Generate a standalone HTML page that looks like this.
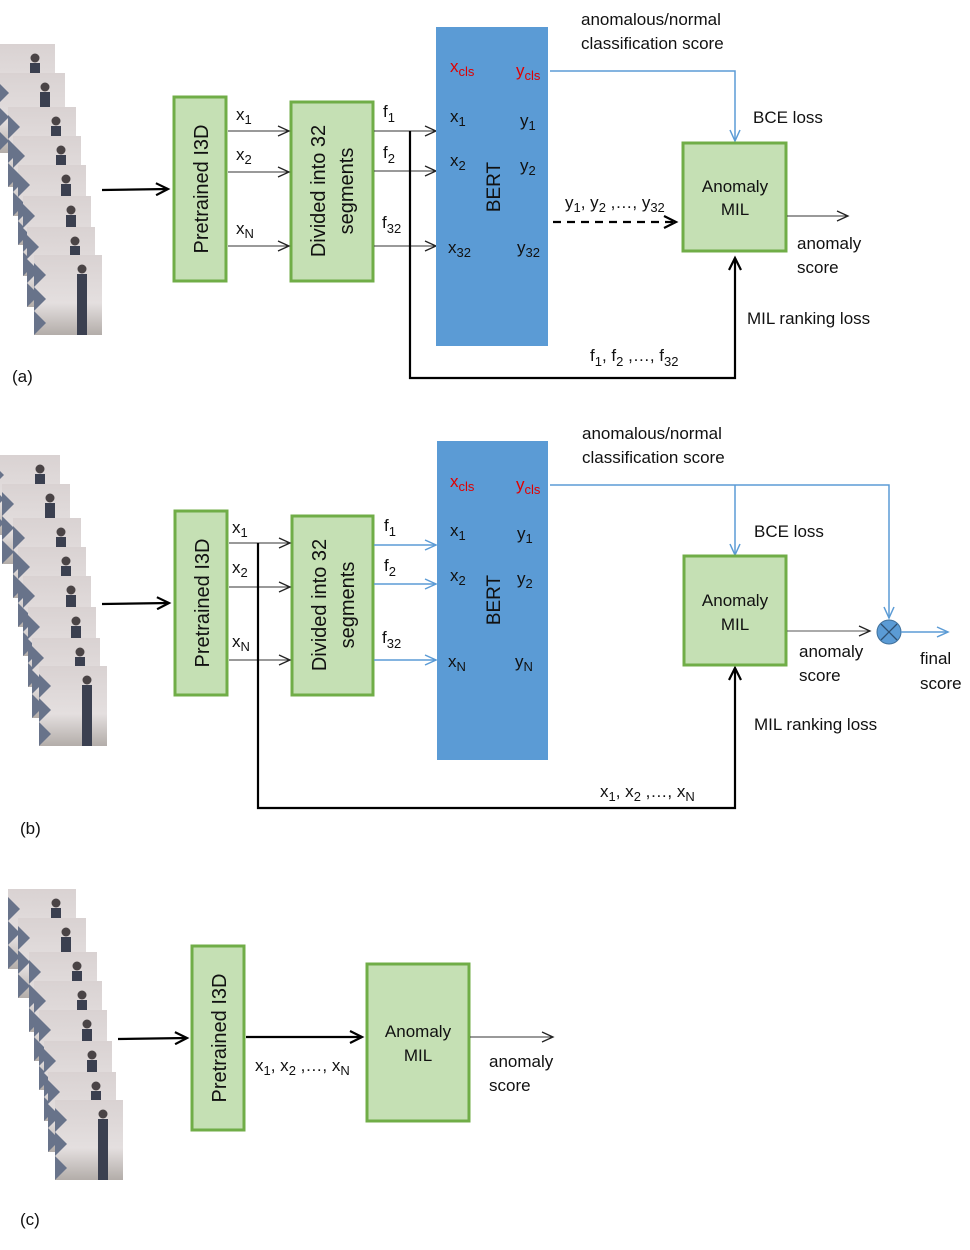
<!DOCTYPE html>
<html><head><meta charset="utf-8"><style>
html,body{margin:0;padding:0;background:#fff;}
svg{display:block;}
text{font-family:"Liberation Sans",sans-serif;font-size:17px;fill:#111;}
.s{font-size:13px;}
.r{fill:#e00000;}
</style></head><body>
<svg width="970" height="1250" viewBox="0 0 970 1250" xmlns="http://www.w3.org/2000/svg">
<defs>
<marker id="oa" markerWidth="14" markerHeight="12" refX="12" refY="6" orient="auto" markerUnits="userSpaceOnUse"><path d="M1,1 L12,6 L1,11" fill="none" stroke="#222" stroke-width="1.3"/></marker>
<marker id="ta" markerWidth="16" markerHeight="14" refX="13" refY="7" orient="auto" markerUnits="userSpaceOnUse"><path d="M1,1 L13,7 L1,13" fill="none" stroke="#000" stroke-width="2.2"/></marker>
<marker id="ba" markerWidth="14" markerHeight="12" refX="12" refY="6" orient="auto" markerUnits="userSpaceOnUse"><path d="M1,1 L12,6 L1,11" fill="none" stroke="#5b9bd5" stroke-width="1.5"/></marker>
<linearGradient id="fg" x1="0" y1="0" x2="0" y2="1"><stop offset="0" stop-color="#d9d2d2"/><stop offset="0.6" stop-color="#e4dfdf"/><stop offset="1" stop-color="#b3ada9"/></linearGradient>
<g id="fr">
<rect x="0" y="0" width="68" height="80" fill="url(#fg)"/>
<path d="M0,8 L12,20 L0,32 L12,44 L0,56 L12,68 L0,80 Z" fill="#68738a"/>
<circle cx="48" cy="14" r="4.5" fill="#4a4446"/>
<rect x="43" y="19" width="10" height="61" fill="#3b4050"/>
</g>
</defs>

<g>
<use href="#fr" x="-13" y="44"/><use href="#fr" x="-3" y="73"/><use href="#fr" x="8" y="107"/><use href="#fr" x="13" y="136"/><use href="#fr" x="18" y="165"/><use href="#fr" x="23" y="196"/><use href="#fr" x="27" y="227"/><use href="#fr" x="34" y="255"/>
</g>
<g transform="translate(5,411)">
<use href="#fr" x="-13" y="44"/><use href="#fr" x="-3" y="73"/><use href="#fr" x="8" y="107"/><use href="#fr" x="13" y="136"/><use href="#fr" x="18" y="165"/><use href="#fr" x="23" y="196"/><use href="#fr" x="27" y="227"/><use href="#fr" x="34" y="255"/>
</g>
<g transform="translate(21,845)">
<use href="#fr" x="-13" y="44"/><use href="#fr" x="-3" y="73"/><use href="#fr" x="8" y="107"/><use href="#fr" x="13" y="136"/><use href="#fr" x="18" y="165"/><use href="#fr" x="23" y="196"/><use href="#fr" x="27" y="227"/><use href="#fr" x="34" y="255"/>
</g>

<!-- (a) -->
<line x1="102" y1="190" x2="168" y2="189" stroke="#000" stroke-width="2.2" marker-end="url(#ta)"/>
<rect x="174" y="97" width="52" height="184" fill="#c5e0b4" stroke="#70ad47" stroke-width="3"/>
<text transform="translate(208,189) rotate(-90)" text-anchor="middle" style="font-size:20px">Pretrained I3D</text>
<rect x="291" y="102" width="82" height="179" fill="#c5e0b4" stroke="#70ad47" stroke-width="3"/>
<text transform="translate(325,191) rotate(-90)" text-anchor="middle" style="font-size:20px">Divided into 32</text>
<text transform="translate(353,191) rotate(-90)" text-anchor="middle" style="font-size:20px">segments</text>
<line x1="228" y1="131" x2="289" y2="131" stroke="#333" marker-end="url(#oa)"/>
<line x1="228" y1="172" x2="289" y2="172" stroke="#333" marker-end="url(#oa)"/>
<line x1="228" y1="246" x2="289" y2="246" stroke="#333" marker-end="url(#oa)"/>
<text x="236" y="120">x<tspan class="s" dy="4">1</tspan></text>
<text x="236" y="160">x<tspan class="s" dy="4">2</tspan></text>
<text x="236" y="234">x<tspan class="s" dy="4">N</tspan></text>
<line x1="374" y1="131" x2="436" y2="131" stroke="#333" marker-end="url(#oa)"/>
<line x1="374" y1="171" x2="436" y2="171" stroke="#333" marker-end="url(#oa)"/>
<line x1="374" y1="246" x2="436" y2="246" stroke="#333" marker-end="url(#oa)"/>
<text x="383" y="117">f<tspan class="s" dy="5">1</tspan></text>
<text x="383" y="158">f<tspan class="s" dy="5">2</tspan></text>
<text x="382" y="228">f<tspan class="s" dy="5">32</tspan></text>
<polyline points="410,131 410,378 735,378 735,258" fill="none" stroke="#000" stroke-width="2.2" marker-end="url(#ta)"/>
<rect x="436" y="27" width="112" height="319" fill="#5b9bd5"/>
<text x="450" y="72" class="r">x<tspan class="s r" dy="4">cls</tspan></text>
<text x="516" y="76" class="r">y<tspan class="s r" dy="4">cls</tspan></text>
<text x="450" y="122">x<tspan class="s" dy="4">1</tspan></text>
<text x="520" y="126">y<tspan class="s" dy="4">1</tspan></text>
<text x="450" y="166">x<tspan class="s" dy="4">2</tspan></text>
<text x="520" y="171">y<tspan class="s" dy="4">2</tspan></text>
<text x="448" y="253">x<tspan class="s" dy="4">32</tspan></text>
<text x="517" y="253">y<tspan class="s" dy="4">32</tspan></text>
<text transform="translate(500,187) rotate(-90)" text-anchor="middle" style="font-size:19px">BERT</text>
<polyline points="550,71 735,71 735,141" fill="none" stroke="#5b9bd5" stroke-width="1.5" marker-end="url(#ba)"/>
<rect x="683" y="143" width="103" height="108" fill="#c5e0b4" stroke="#70ad47" stroke-width="3"/>
<text x="735" y="192" text-anchor="middle">Anomaly</text>
<text x="735" y="215" text-anchor="middle">MIL</text>
<line x1="553" y1="222" x2="676" y2="222" stroke="#000" stroke-width="2.2" stroke-dasharray="8,6" marker-end="url(#ta)"/>
<text x="565" y="208">y<tspan class="s" dy="4">1</tspan><tspan dy="-4">, y</tspan><tspan class="s" dy="4">2</tspan><tspan dy="-4"> ,…, y</tspan><tspan class="s" dy="4">32</tspan></text>
<line x1="787" y1="216" x2="848" y2="216" stroke="#333" marker-end="url(#oa)"/>
<text x="581" y="25">anomalous/normal</text>
<text x="581" y="49">classification score</text>
<text x="753" y="123">BCE loss</text>
<text x="797" y="249">anomaly</text>
<text x="797" y="273">score</text>
<text x="747" y="324">MIL ranking loss</text>
<text x="590" y="361">f<tspan class="s" dy="5">1</tspan><tspan dy="-5">, f</tspan><tspan class="s" dy="5">2</tspan><tspan dy="-5"> ,…, f</tspan><tspan class="s" dy="5">32</tspan></text>
<text x="12" y="382">(a)</text>

<!-- (b) -->
<line x1="102" y1="604" x2="169" y2="603" stroke="#000" stroke-width="2.2" marker-end="url(#ta)"/>
<rect x="175" y="511" width="52" height="184" fill="#c5e0b4" stroke="#70ad47" stroke-width="3"/>
<text transform="translate(209,603) rotate(-90)" text-anchor="middle" style="font-size:20px">Pretrained I3D</text>
<rect x="292" y="516" width="81" height="179" fill="#c5e0b4" stroke="#70ad47" stroke-width="3"/>
<text transform="translate(326,605) rotate(-90)" text-anchor="middle" style="font-size:20px">Divided into 32</text>
<text transform="translate(354,605) rotate(-90)" text-anchor="middle" style="font-size:20px">segments</text>
<line x1="229" y1="543" x2="290" y2="543" stroke="#333" marker-end="url(#oa)"/>
<line x1="229" y1="587" x2="290" y2="587" stroke="#333" marker-end="url(#oa)"/>
<line x1="229" y1="660" x2="290" y2="660" stroke="#333" marker-end="url(#oa)"/>
<text x="232" y="533">x<tspan class="s" dy="4">1</tspan></text>
<text x="232" y="573">x<tspan class="s" dy="4">2</tspan></text>
<text x="232" y="647">x<tspan class="s" dy="4">N</tspan></text>
<polyline points="258,543 258,808 735,808 735,668" fill="none" stroke="#000" stroke-width="2.2" marker-end="url(#ta)"/>
<line x1="374" y1="545" x2="436" y2="545" stroke="#5b9bd5" stroke-width="1.5" marker-end="url(#ba)"/>
<line x1="374" y1="584" x2="436" y2="584" stroke="#5b9bd5" stroke-width="1.5" marker-end="url(#ba)"/>
<line x1="374" y1="660" x2="436" y2="660" stroke="#5b9bd5" stroke-width="1.5" marker-end="url(#ba)"/>
<text x="384" y="531">f<tspan class="s" dy="5">1</tspan></text>
<text x="384" y="571">f<tspan class="s" dy="5">2</tspan></text>
<text x="382" y="643">f<tspan class="s" dy="5">32</tspan></text>
<rect x="437" y="441" width="111" height="319" fill="#5b9bd5"/>
<text x="450" y="487" class="r">x<tspan class="s r" dy="4">cls</tspan></text>
<text x="516" y="490" class="r">y<tspan class="s r" dy="4">cls</tspan></text>
<text x="450" y="536">x<tspan class="s" dy="4">1</tspan></text>
<text x="517" y="539">y<tspan class="s" dy="4">1</tspan></text>
<text x="450" y="581">x<tspan class="s" dy="4">2</tspan></text>
<text x="517" y="584">y<tspan class="s" dy="4">2</tspan></text>
<text x="448" y="667">x<tspan class="s" dy="4">N</tspan></text>
<text x="515" y="667">y<tspan class="s" dy="4">N</tspan></text>
<text transform="translate(500,600) rotate(-90)" text-anchor="middle" style="font-size:19px">BERT</text>
<polyline points="550,485 889,485 889,618" fill="none" stroke="#5b9bd5" stroke-width="1.5" marker-end="url(#ba)"/>
<line x1="735" y1="485" x2="735" y2="555" stroke="#5b9bd5" stroke-width="1.5" marker-end="url(#ba)"/>
<rect x="684" y="556" width="102" height="109" fill="#c5e0b4" stroke="#70ad47" stroke-width="3"/>
<text x="735" y="606" text-anchor="middle">Anomaly</text>
<text x="735" y="630" text-anchor="middle">MIL</text>
<line x1="787" y1="631" x2="870" y2="631" stroke="#555" marker-end="url(#oa)"/>
<circle cx="889" cy="632" r="12" fill="#5b9bd5" stroke="#41719c" stroke-width="1"/>
<line x1="881" y1="624" x2="897" y2="640" stroke="#2f4f70" stroke-width="1.3"/>
<line x1="897" y1="624" x2="881" y2="640" stroke="#2f4f70" stroke-width="1.3"/>
<line x1="901" y1="632" x2="948" y2="632" stroke="#5b9bd5" stroke-width="1.5" marker-end="url(#ba)"/>
<text x="582" y="439">anomalous/normal</text>
<text x="582" y="463">classification score</text>
<text x="754" y="537">BCE loss</text>
<text x="799" y="657">anomaly</text>
<text x="799" y="681">score</text>
<text x="920" y="664">final</text>
<text x="920" y="689">score</text>
<text x="754" y="730">MIL ranking loss</text>
<text x="600" y="797">x<tspan class="s" dy="4">1</tspan><tspan dy="-4">, x</tspan><tspan class="s" dy="4">2</tspan><tspan dy="-4"> ,…, x</tspan><tspan class="s" dy="4">N</tspan></text>
<text x="20" y="834">(b)</text>

<!-- (c) -->
<line x1="118" y1="1039" x2="187" y2="1038" stroke="#000" stroke-width="2.2" marker-end="url(#ta)"/>
<rect x="192" y="946" width="52" height="184" fill="#c5e0b4" stroke="#70ad47" stroke-width="3"/>
<text transform="translate(226,1038) rotate(-90)" text-anchor="middle" style="font-size:20px">Pretrained I3D</text>
<line x1="246" y1="1037" x2="362" y2="1037" stroke="#000" stroke-width="2.2" marker-end="url(#ta)"/>
<text x="255" y="1071">x<tspan class="s" dy="4">1</tspan><tspan dy="-4">, x</tspan><tspan class="s" dy="4">2</tspan><tspan dy="-4"> ,…, x</tspan><tspan class="s" dy="4">N</tspan></text>
<rect x="367" y="964" width="102" height="157" fill="#c5e0b4" stroke="#70ad47" stroke-width="3"/>
<text x="418" y="1037" text-anchor="middle">Anomaly</text>
<text x="418" y="1061" text-anchor="middle">MIL</text>
<line x1="470" y1="1037" x2="553" y2="1037" stroke="#333" marker-end="url(#oa)"/>
<text x="489" y="1067">anomaly</text>
<text x="489" y="1091">score</text>
<text x="20" y="1225">(c)</text>
</svg>
</body></html>
